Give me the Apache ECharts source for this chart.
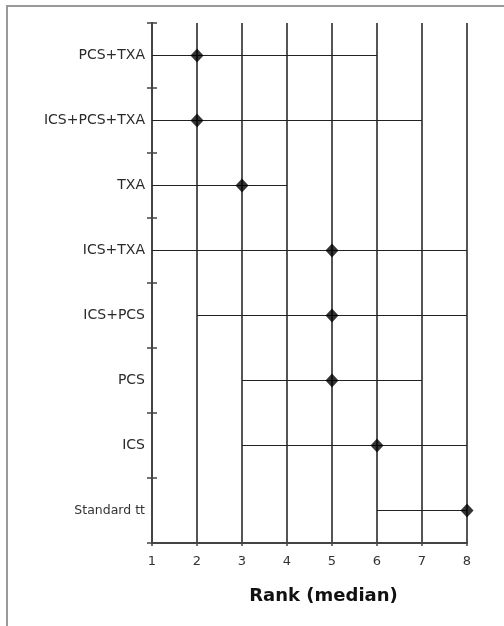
<!DOCTYPE html>
<html>
<head>
<meta charset="utf-8">
<style>
  html, body { margin: 0; padding: 0; background: #fff; }
  #chart { width: 504px; height: 626px; }
</style>
<script src="https://cdn.jsdelivr.net/npm/echarts@6/dist/echarts.min.js"></script>
</head>
<body>
<div id="chart"></div>
<script>
// Treatments, top to bottom
const treatments = ['PCS+TXA', 'ICS+PCS+TXA', 'TXA', 'ICS+TXA', 'ICS+PCS', 'PCS', 'ICS', 'Standard tt'];
// Rank range (lowest / highest) and median rank per treatment
const rankLow    = [1, 1, 1, 1, 2, 3, 3, 6];
const rankHigh   = [6, 7, 4, 8, 8, 7, 8, 8];
const rankMedian = [2, 2, 3, 5, 5, 5, 6, 8];
// Rank axis ticks
const rankTicks = [1, 2, 3, 4, 5, 6, 7, 8];

const chart = echarts.init(document.getElementById('chart'), null, { renderer: 'canvas' });

const rangeData = treatments.map((t, i) => [rankLow[i], rankHigh[i], t]);
const medianData = treatments.map((t, i) => [rankMedian[i], t]);

const labelFont = '"DejaVu Sans", Verdana, sans-serif';

const yAxisBase = {
  type: 'category',
  data: treatments,
  inverse: true,
  boundaryGap: true,
  axisLine: { show: true, lineStyle: { color: '#444', width: 2 } },
  splitLine: { show: false }
};

chart.setOption({
  animation: false,
  backgroundColor: '#fff',
  grid: { left: 152, right: 37, top: 23, bottom: 83 },
  xAxis: {
    type: 'value',
    min: rankTicks[0],
    max: rankTicks[rankTicks.length - 1],
    interval: 1,
    name: 'Rank (median)',
    nameLocation: 'middle',
    nameGap: 44,
    nameTextStyle: {
      fontFamily: labelFont, fontSize: 18, fontWeight: 'bold', color: '#111',
      padding: [0, 0, 0, 28]
    },
    axisLine: { show: true, lineStyle: { color: '#444', width: 2 } },
    axisTick: { show: true, length: 3, lineStyle: { color: '#444', width: 1.5 } },
    axisLabel: { fontFamily: labelFont, fontSize: 13, color: '#333', margin: 12 },
    splitLine: { show: true, lineStyle: { color: '#555', width: 2 } }
  },
  yAxis: [
    Object.assign({}, yAxisBase, {
      axisTick: { show: true, inside: false, length: 5, lineStyle: { color: '#444', width: 1.5 } },
      axisLabel: {
        fontFamily: labelFont, fontSize: 14, color: '#2a2a2a', margin: 7,
        formatter: v => v === 'Standard tt' ? '{n|' + v + '}' : v,
        rich: {
          n: { fontFamily: labelFont, fontSize: 12.5, color: '#333' }
        }
      }
    }),
    Object.assign({}, yAxisBase, {
      position: 'left',
      axisTick: { show: true, inside: true, length: 5, lineStyle: { color: '#444', width: 1.5 } },
      axisLabel: { show: false }
    })
  ],
  series: [
    {
      type: 'custom',
      yAxisIndex: 0,
      encode: { x: [0, 1], y: 2 },
      data: rangeData,
      renderItem: (params, api) => {
        const cat = api.value(2);
        const p1 = api.coord([api.value(0), cat]);
        const p2 = api.coord([api.value(1), cat]);
        return {
          type: 'line',
          shape: { x1: p1[0], y1: p1[1], x2: p2[0], y2: p2[1] },
          style: { stroke: '#222', lineWidth: 1.2 }
        };
      },
      z: 3
    },
    {
      type: 'scatter',
      yAxisIndex: 0,
      data: medianData,
      symbol: 'diamond',
      symbolSize: [13, 14],
      itemStyle: { color: '#000' },
      z: 4
    }
  ],
  graphic: [
    {
      type: 'polyline',
      shape: { points: [[7, 626], [7, 6], [504, 6]] },
      style: { stroke: '#999', lineWidth: 2, fill: null },
      silent: true
    }
  ]
});
</script>
</body>
</html>
